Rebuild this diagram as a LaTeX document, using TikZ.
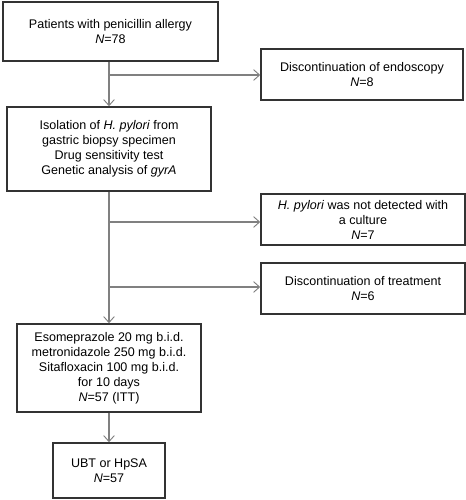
\documentclass[tikz,border=0pt]{standalone}
\usepackage{fontspec}
\setmainfont{Liberation Sans}
\usetikzlibrary{arrows.meta}
\begin{document}
\begin{tikzpicture}[x=0.75pt,y=-0.75pt,
  box/.style={draw=black!80, line width=1.1pt, fill=white, align=center, inner sep=0pt,
    font=\fontsize{9.4}{11.25}\selectfont},
  conn/.style={draw=black!50, line width=0.8pt},
  arr/.style={conn, -{Straight Barb[length=4.5pt,width=8pt,line width=0.7pt]}}]
\useasboundingbox (0,0) rectangle (466,500);
\node[box, minimum width=161.25pt, minimum height=44.25pt] (b1) at (110.5,31.5)
  {Patients with penicillin allergy\\\textit{N}=78};
\node[box, minimum width=151.5pt, minimum height=38.25pt] (b2) at (362,74.5)
  {Discontinuation of endoscopy\\\textit{N}=8};
\node[box, minimum width=153pt, minimum height=63pt] (b3) at (109,149)
  {Isolation of \textit{H. pylori} from\\gastric biopsy specimen\\Drug sensitivity test\\Genetic analysis of \textit{gyrA}};
\node[box, minimum width=153pt, minimum height=38.25pt] (b4) at (363,219.5)
  {\textit{H. pylori} was not detected with\\a culture\\\textit{N}=7};
\node[box, minimum width=153pt, minimum height=38.25pt] (b5) at (363,288.5)
  {Discontinuation of treatment\\\textit{N}=6};
\node[box, minimum width=138pt, minimum height=66pt] (b6) at (109,368)
  {Esomeprazole 20 mg b.i.d.\\metronidazole 250 mg b.i.d.\\Sitafloxacin 100 mg b.i.d.\\for 10 days\\\textit{N}=57 (ITT)};
\node[box, minimum width=84pt, minimum height=41.25pt] (b7) at (109,470.5)
  {UBT or HpSA\\\textit{N}=57};
\coordinate (j1) at (109,75);
\coordinate (j2) at (109,222);
\coordinate (j3) at (109,287);
\draw[arr] (b1.south -| j1) -- (b3.north -| j1);
\draw[arr] (j1) -- (j1 -| b2.west);
\draw[arr] (b3.south -| j2) -- (b6.north -| j2);
\draw[arr] (j2) -- (j2 -| b4.west);
\draw[arr] (j3) -- (j3 -| b5.west);
\draw[arr] (b6) -- (b7);
\end{tikzpicture}
\end{document}
